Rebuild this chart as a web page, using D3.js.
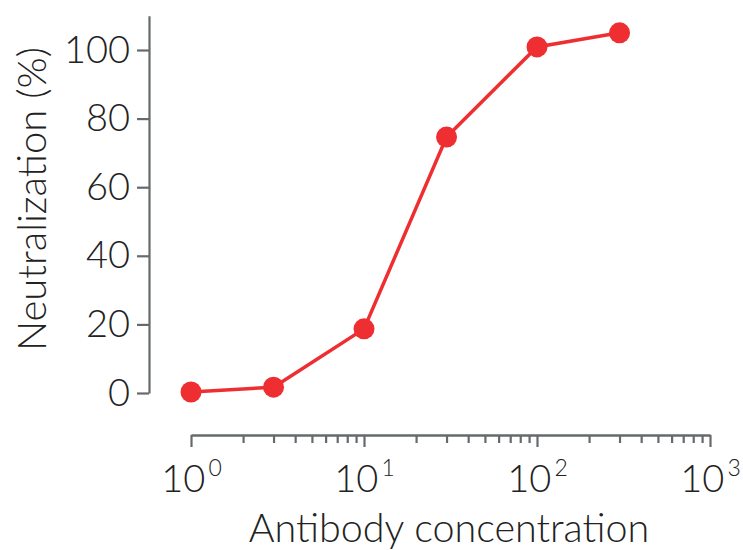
<!DOCTYPE html>
<html>
<head>
<meta charset="utf-8">
<script src="https://cdn.jsdelivr.net/npm/d3@7"></script>
<style>
  body { margin: 0; background: #fff; }
  text { font-family: Lato, "Open Sans", sans-serif; font-weight: 300; fill: #222; }
</style>
</head>
<body>
<script>
const width = 743;
const height = 550;

// data
const concentrations = [1, 3, 10, 30, 100, 300];
const neutralization = [0.3, 1.7, 18.7, 74.6, 100.9, 105];
const yTicks = [0, 20, 40, 60, 80, 100];
const xMajor = [1, 10, 100, 1000];
const xExponents = ["0", "1", "2", "3"];

const red = "#ee2e31";
const axisColor = "#666a6c";

const svg = d3.select("body")
    .append("svg")
    .attr("width", width)
    .attr("height", height);

const x = d3.scaleLog().domain([1, 1000]).range([191, 710]);
const y = d3.scaleLinear().domain([0, 110]).range([393, 15.7]);

// y axis
const yAxis = svg.append("g")
    .attr("transform", "translate(149,0)")
    .call(d3.axisLeft(y).tickValues(yTicks).tickSize(12).tickSizeOuter(0).tickPadding(7));

yAxis.selectAll("text").style("font-size", "38px");

// x axis: minor ticks
const minor = [];
for (let e = 0; e < 3; e++) {
    for (let m = 2; m <= 9; m++) minor.push(m * Math.pow(10, e));
}

svg.append("g")
    .attr("class", "minor")
    .attr("transform", "translate(0,435)")
    .call(d3.axisBottom(x).tickValues(minor).tickSize(8).tickSizeOuter(0).tickFormat(""));

const xAxis = svg.append("g")
    .attr("transform", "translate(0,435)")
    .call(d3.axisBottom(x).tickValues(xMajor).tickSize(12).tickSizeOuter(0).tickFormat(""));

xAxis.selectAll(".tick text")
    .attr("y", 57)
    .attr("dy", null)
    .style("font-size", "38px")
    .each(function (d, i) {
        const t = d3.select(this);
        t.append("tspan").text("10");
        t.append("tspan")
            .attr("dy", -16)
            .attr("dx", 3)
            .style("font-size", "23px")
            .text(xExponents[i]);
    });

svg.selectAll(".domain, .tick line")
    .attr("stroke", axisColor)
    .attr("stroke-width", 2.2);

// axis titles
svg.append("text")
    .attr("x", 449)
    .attr("y", 542)
    .attr("text-anchor", "middle")
    .style("font-size", "39.5px")
    .text("Antibody concentration");

svg.append("text")
    .attr("transform", "translate(46,199) rotate(-90)")
    .attr("text-anchor", "middle")
    .style("font-size", "40px")
    .text("Neutralization (%)");

// series
const points = concentrations.map((c, i) => ({ c: c, v: neutralization[i] }));

svg.append("path")
    .datum(points)
    .attr("fill", "none")
    .attr("stroke", red)
    .attr("stroke-width", 3.5)
    .attr("d", d3.line().x(d => x(d.c)).y(d => y(d.v)));

svg.selectAll("circle")
    .data(points)
    .join("circle")
    .attr("cx", d => x(d.c))
    .attr("cy", d => y(d.v))
    .attr("r", 10.5)
    .attr("fill", red);
</script>
</body>
</html>
